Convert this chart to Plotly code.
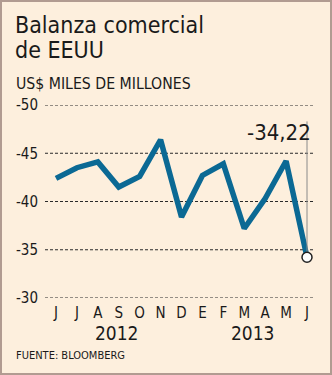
import plotly.graph_objects as go

months = ["J", "J", "A", "S", "O", "N", "D", "E", "F", "M", "A", "M", "J"]
values = [-42.4, -43.5, -44.1, -41.5, -42.6, -46.4, -38.4, -42.7, -43.9, -37.2, -40.3, -44.2, -34.22]
years = ["2012", "2013"]
year_pos = [2.9, 9.4]
last_label = "-34,22"
y_ticks = [-50, -45, -40, -35, -30]

W, H = 332, 375
L, R, T, B = 45, 19, 105, 77
ph = H - T - B
pw = W - L - R

def py(p):
    return (H - B - p) / ph

def px(p):
    return (p - L) / pw

FONT = "DejaVu Sans Condensed, DejaVu Sans"
x = list(range(len(months)))

fig = go.Figure()

# dashed gridlines
for v in y_ticks:
    fig.add_shape(type="line", xref="paper", yref="y", x0=0, x1=1, y0=v, y1=v,
                  line=dict(color="#2a2a2a", width=1, dash="3px,2px"), layer="below")

fig.add_trace(go.Scatter(
    x=x, y=values, mode="lines",
    line=dict(color="#0b6994", width=5.5, shape="linear"),
    hoverinfo="skip", showlegend=False, cliponaxis=False,
))
# leader line to last point
fig.add_trace(go.Scatter(
    x=[x[-1], x[-1]], y=[values[-1], -48.3], mode="lines",
    line=dict(color="#8a8a8a", width=1), hoverinfo="skip", showlegend=False,
))
fig.add_trace(go.Scatter(
    x=[x[-1]], y=[values[-1]], mode="markers",
    marker=dict(color="white", size=10, line=dict(color="#222222", width=1.5)),
    hoverinfo="skip", showlegend=False,
))

fig.update_layout(
    width=W, height=H,
    margin=dict(l=L, r=R, t=T, b=B),
    paper_bgcolor="#fdefdd",
    plot_bgcolor="#fdefdd",
    font=dict(family=FONT, color="#1a1a1a"),
    xaxis=dict(
        range=[-0.526, 12.287], tickvals=x, ticktext=months,
        showgrid=False, zeroline=False, showline=False, ticks="",
        tickfont=dict(size=15, family=FONT, color="#1a1a1a"),
        ticklabelstandoff=4, fixedrange=True,
    ),
    yaxis=dict(
        range=[-30, -50], tickvals=y_ticks, ticktext=[str(v) for v in y_ticks],
        showgrid=False, zeroline=False, showline=False, ticks="",
        tickfont=dict(size=15, family=FONT, color="#1a1a1a"),
        ticklabelstandoff=6, fixedrange=True,
    ),
)

ann = [
    dict(text="Balanza comercial", x=px(14), y=py(24.5), xanchor="left", yanchor="middle",
         font=dict(size=23, family=FONT, color="#1a1a1a")),
    dict(text="de EEUU", x=px(14), y=py(49.5), xanchor="left", yanchor="middle",
         font=dict(size=23, family=FONT, color="#1a1a1a")),
    dict(text="US$ MILES DE MILLONES", x=px(15), y=py(83), xanchor="left", yanchor="middle",
         font=dict(size=15.7, family=FONT, color="#1a1a1a")),
    dict(text="FUENTE: BLOOMBERG", x=px(15), y=py(355), xanchor="left", yanchor="middle",
         font=dict(size=11, family=FONT, color="#1a1a1a")),
]
for a in ann:
    a.update(xref="paper", yref="paper", showarrow=False, borderpad=0)
    fig.add_annotation(**a)

for yr, xp in zip(years, year_pos):
    fig.add_annotation(text=yr, x=xp, y=py(333), xref="x", yref="paper", showarrow=False,
                       xanchor="center", yanchor="middle",
                       font=dict(size=19, family=FONT, color="#1a1a1a"))

fig.add_annotation(text=last_label, x=px(313), y=py(132), xref="paper", yref="paper",
                   showarrow=False, xanchor="right", yanchor="middle",
                   font=dict(size=22, family=FONT, color="#1a1a1a"))

fig.add_shape(type="rect", xref="paper", yref="paper", x0=px(1), x1=px(W - 1), y0=py(H - 1), y1=py(1),
              line=dict(color="#b19b91", width=2), fillcolor="rgba(0,0,0,0)", layer="above")

fig.write_html("out.html", config={"displayModeBar": False})
